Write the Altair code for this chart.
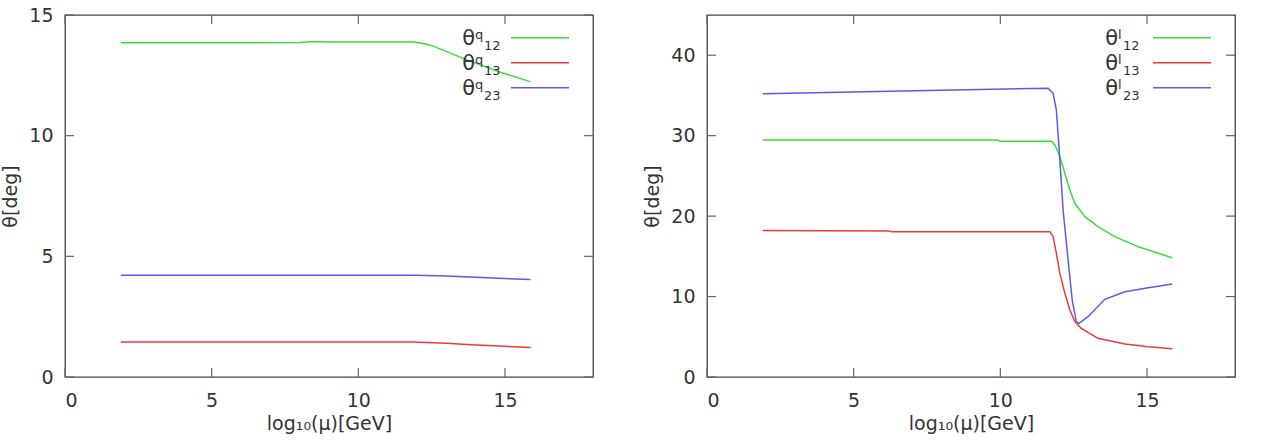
import altair as alt
import pandas as pd

# ---------------- data ----------------
X_TICKS = [0, 5, 10, 15]
Q_Y_TICKS = [0, 5, 10, 15]
L_Y_TICKS = [0, 10, 20, 30, 40]
SERIES = ["12", "13", "23"]

# quark mixing angles (left panel)
q12_x = [1.9, 4.0, 6.0, 8.0, 8.5, 9.0, 10.0, 11.0, 11.9, 12.3, 12.6, 13.7, 14.85, 15.87]
q12_y = [13.85, 13.85, 13.85, 13.86, 13.9, 13.88, 13.88, 13.88, 13.88, 13.8, 13.69, 13.14, 12.63, 12.23]
q13_x = [1.9, 6.0, 11.9, 13.0, 14.0, 15.0, 15.87]
q13_y = [1.45, 1.45, 1.45, 1.40, 1.33, 1.27, 1.22]
q23_x = [1.9, 6.0, 11.9, 13.0, 14.0, 15.0, 15.87]
q23_y = [4.22, 4.22, 4.22, 4.18, 4.13, 4.08, 4.04]

# lepton mixing angles (right panel)
l12_x = [1.9, 9.9, 10.0, 11.74, 11.86, 12.03, 12.2, 12.37, 12.54, 12.88, 13.33, 13.9, 14.7, 15.86]
l12_y = [29.45, 29.45, 29.3, 29.3, 28.84, 27.39, 25.32, 23.25, 21.59, 19.93, 18.69, 17.44, 16.2, 14.83]
l13_x = [1.9, 6.2, 6.3, 11.69, 11.8, 11.91, 12.03, 12.2, 12.37, 12.54, 12.76, 13.33, 14.25, 15.04, 15.86]
l13_y = [18.2, 18.15, 18.05, 18.05, 17.44, 15.38, 12.89, 10.4, 8.33, 6.88, 6.05, 4.81, 4.1, 3.77, 3.52]
l23_x = [1.9, 11.63, 11.8, 11.91, 12.03, 12.14, 12.31, 12.45, 12.59, 12.68, 12.99, 13.56, 14.25, 15.04, 15.86]
l23_y = [35.2, 35.9, 35.27, 33.19, 26.98, 20.76, 14.54, 9.57, 6.88, 6.67, 7.5, 9.66, 10.6, 11.1, 11.56]

# ---------------- styling ----------------
COLORS = ["#3cdc3c", "#ee3a3a", "#5a5aee"]
FONT = "DejaVu Sans"
TEXT = "#333333"
TICK = "#666666"
W, H = 528, 362
TICK_LEN = 9


def panel(xs, ys, y_max, y_ticks, sup, theta_right, sub_left):
    rows = []
    for name, xv, yv in zip(SERIES, xs, ys):
        for a, b in zip(xv, yv):
            rows.append({"x": a, "y": b, "s": name})
    df = pd.DataFrame(rows)
    xscale = alt.Scale(domain=[0, 18], nice=False, zero=False)
    yscale = alt.Scale(domain=[0, y_max], nice=False, zero=False)
    xaxis = alt.Axis(values=X_TICKS, title="log₁₀(μ)[GeV]", labelPadding=14, titlePadding=4)
    yaxis = alt.Axis(values=y_ticks, title="θ[deg]", labelPadding=12, titlePadding=8)
    enc_x = alt.X("x:Q", scale=xscale, axis=xaxis)
    enc_y = alt.Y("y:Q", scale=yscale, axis=yaxis)

    lines = alt.Chart(df).mark_line(strokeWidth=1.5).encode(
        x=enc_x, y=enc_y,
        color=alt.Color("s:N", scale=alt.Scale(domain=SERIES, range=COLORS), legend=None),
    )

    xt = pd.DataFrame({"x": X_TICKS})
    yt = pd.DataFrame({"y": y_ticks})
    bottom = alt.Chart(xt).mark_rule(color=TICK, strokeWidth=1.2).encode(
        x=enc_x, y=alt.value(H), y2=alt.value(H - TICK_LEN))
    top = alt.Chart(xt).mark_rule(color=TICK, strokeWidth=1.2).encode(
        x=enc_x, y=alt.value(0), y2=alt.value(TICK_LEN))
    left = alt.Chart(yt).mark_rule(color=TICK, strokeWidth=1.2).encode(
        y=enc_y, x=alt.value(0), x2=alt.value(TICK_LEN))
    right = alt.Chart(yt).mark_rule(color=TICK, strokeWidth=1.2).encode(
        y=enc_y, x=alt.value(W - TICK_LEN), x2=alt.value(W))

    layers = [lines, bottom, top, left, right]

    # legend (gnuplot-style key, top right)
    for i, (name, col) in enumerate(zip(SERIES, COLORS)):
        ry = 22.7 + 25 * i
        layers.append(alt.Chart(pd.DataFrame({"t": [name]})).mark_rule(
            color=col, strokeWidth=1.5).encode(
            x=alt.value(446), x2=alt.value(504), y=alt.value(ry)))
        layers.append(alt.Chart(pd.DataFrame({"t": ["θ"]})).mark_text(
            font=FONT, fontSize=21, align="right", baseline="alphabetic", color=TEXT).encode(
            text="t:N", x=alt.value(theta_right), y=alt.value(ry + 7)))
        layers.append(alt.Chart(pd.DataFrame({"t": [sup]})).mark_text(
            font=FONT, fontSize=13, align="left", baseline="alphabetic", color=TEXT).encode(
            text="t:N", x=alt.value(theta_right), y=alt.value(ry + 1)))
        layers.append(alt.Chart(pd.DataFrame({"t": [name]})).mark_text(
            font=FONT, fontSize=13, align="left", baseline="alphabetic", color=TEXT).encode(
            text="t:N", x=alt.value(sub_left), y=alt.value(ry + 12)))

    return alt.layer(*layers).properties(width=W, height=H)


left_panel = panel([q12_x, q13_x, q23_x], [q12_y, q13_y, q23_y], 15, Q_Y_TICKS, "q", 410, 419)
right_panel = panel([l12_x, l13_x, l23_x], [l12_y, l13_y, l23_y], 45, L_Y_TICKS, "l", 411, 416)

chart = alt.hconcat(left_panel, right_panel, spacing=48).properties(
    padding={"left": 1, "top": 5, "right": 0, "bottom": 0},
    background="white",
).configure_view(
    stroke="#444444", strokeWidth=1.3
).configure_axis(
    ticks=False, domain=False, grid=False,
    labelFont=FONT, labelFontSize=19, labelColor=TEXT,
    titleFont=FONT, titleFontSize=19, titleFontWeight="normal", titleColor=TEXT,
)

chart.save("out.html", embed_options={"renderer": "svg", "actions": False})
